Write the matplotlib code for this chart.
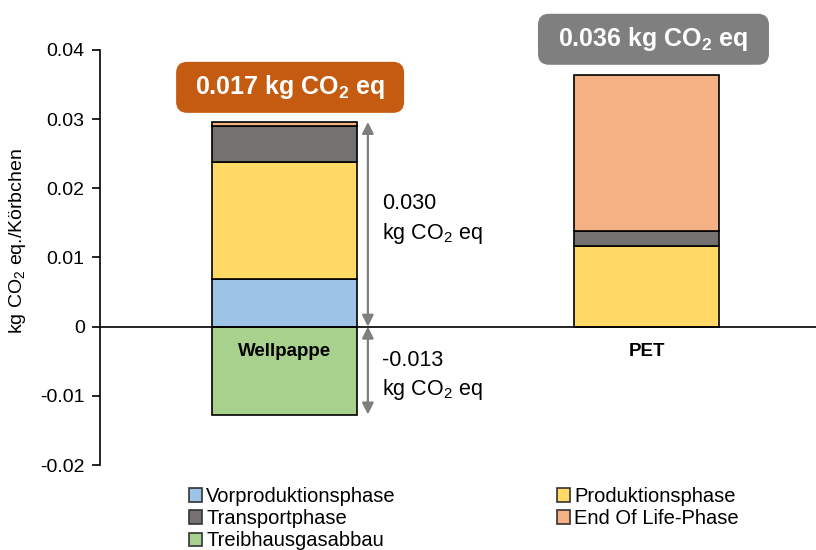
import matplotlib
matplotlib.use("Agg")
import matplotlib.pyplot as plt
from matplotlib.patches import Patch, FancyBboxPatch
import numpy as np

plt.rcParams['font.family'] = ['Liberation Sans', 'DejaVu Sans']
plt.rcParams['mathtext.fontset'] = 'custom'
plt.rcParams['mathtext.rm'] = 'Liberation Sans'
plt.rcParams['mathtext.bf'] = 'Liberation Sans:bold'

categories = ["Wellpappe", "PET"]
series_names = ["Vorproduktionsphase", "Produktionsphase", "Transportphase",
                "End Of Life-Phase", "Treibhausgasabbau"]
vorproduktion = [0.0069, 0.0]
produktion = [0.0169, 0.0117]
transport = [0.0052, 0.0022]
end_of_life = [0.0006, 0.0225]
treibhausgasabbau = [-0.0127, 0.0]
totals = ["0.017", "0.036"]
positive_label = "0.030"
negative_label = "-0.013"
yticks = [-0.02, -0.01, 0, 0.01, 0.02, 0.03, 0.04]
ytick_labels = ["-0.02", "-0.01", "0", "0.01", "0.02", "0.03", "0.04"]

colors = {"Vorproduktionsphase": "#9DC3E6", "Produktionsphase": "#FFD966",
          "Transportphase": "#767171", "End Of Life-Phase": "#F4B183",
          "Treibhausgasabbau": "#A9D18E"}

fig = plt.figure(figsize=(8.16, 5.5), dpi=100)
ax = fig.add_axes([100/816, 85/550, 716/816, 415/550])

x = np.arange(len(categories))
w = 0.40
bottom = np.zeros(len(categories))
for name, vals in zip(series_names[:4], [vorproduktion, produktion, transport, end_of_life]):
    vals = np.array(vals)
    mask = vals > 0
    ax.bar(x[mask], vals[mask], w, bottom=bottom[mask], color=colors[name],
           edgecolor="black", linewidth=1.2, zorder=2)
    bottom += vals
neg = np.array(treibhausgasabbau)
mask = neg < 0
ax.bar(x[mask], neg[mask], w, color=colors["Treibhausgasabbau"], edgecolor="black",
       linewidth=1.2, zorder=2)

ax.axhline(0, color="black", linewidth=1.2, zorder=3)
ax.set_ylim(-0.02, 0.04)
ax.set_xlim(-0.51, 1.468)
ax.set_yticks(yticks)
ax.set_yticklabels(ytick_labels, fontsize=14)
ax.set_xticks([])
for s in ["top", "right", "bottom"]:
    ax.spines[s].set_visible(False)
ax.spines["left"].set_linewidth(1.2)
ax.tick_params(axis="y", length=6, width=1.2, pad=5)
ax.set_ylabel("kg CO$_2$ eq./Körbchen", fontsize=14)
ax.yaxis.set_label_coords(-0.100, 0.54)

# category labels
for xi, c in zip(x, categories):
    ax.text(xi, -0.0036, c, ha="center", va="center", fontsize=13.5, fontweight="bold", zorder=4)

# arrows
ax_x = 0.23
pos_top = bottom[0]
for y0, y1 in [(0, pos_top), (neg[0], 0)]:
    ax.annotate("", xy=(ax_x, y1), xytext=(ax_x, y0),
                arrowprops=dict(arrowstyle="<|-|>", color="#7F7F7F", lw=1.6, mutation_scale=17,
                                shrinkA=0, shrinkB=0))
ax.text(0.27, 0.0155, positive_label + "\nkg CO$_2$ eq", ha="left", va="center",
        fontsize=15.5, linespacing=1.35)
ax.text(0.27, -0.0071, negative_label + "\nkg CO$_2$ eq", ha="left", va="center",
        fontsize=15.5, linespacing=1.35)

# total boxes
px_x = 1 / 362.0      # data units per pixel (x)
px_y = 0.01 / 69.2    # data units per pixel (y)
box_cols = ["#C55A11", "#7F7F7F"]
box_pos = [(0.0152, 0.0346, 228), (1.019, 0.04155, 231)]
for (bx, by, bw), t, bc in zip(box_pos, totals, box_cols):
    wd = bw * px_x
    ht = 51 * px_y
    patch = FancyBboxPatch((bx - wd / 2, by - ht / 2), wd, ht,
                           boxstyle="round,pad=0,rounding_size=%f" % (11 * px_x),
                           mutation_aspect=px_y / px_x, facecolor=bc, edgecolor="none",
                           clip_on=False, zorder=5)
    ax.add_patch(patch)
    ax.text(bx, by, t + r" kg CO$_\mathbf{2}$ eq", ha="center", va="center", color="white",
            fontsize=18, fontweight="bold", clip_on=False, zorder=6)

order = ["Vorproduktionsphase", "Transportphase", "Treibhausgasabbau",
         "Produktionsphase", "End Of Life-Phase"]
handles = [Patch(facecolor=colors[n], edgecolor="#333333", linewidth=1.2, label=n) for n in order]
fig.legend(handles=handles, ncol=2, loc="upper left", bbox_to_anchor=(189/816, 1 - 487/550),
           frameon=False, fontsize=14.5, handlelength=0.65, handleheight=0.65, handletextpad=0.2,
           columnspacing=8.0, labelspacing=0.16, borderaxespad=0, borderpad=0)

fig.savefig("out.png", dpi=100)
